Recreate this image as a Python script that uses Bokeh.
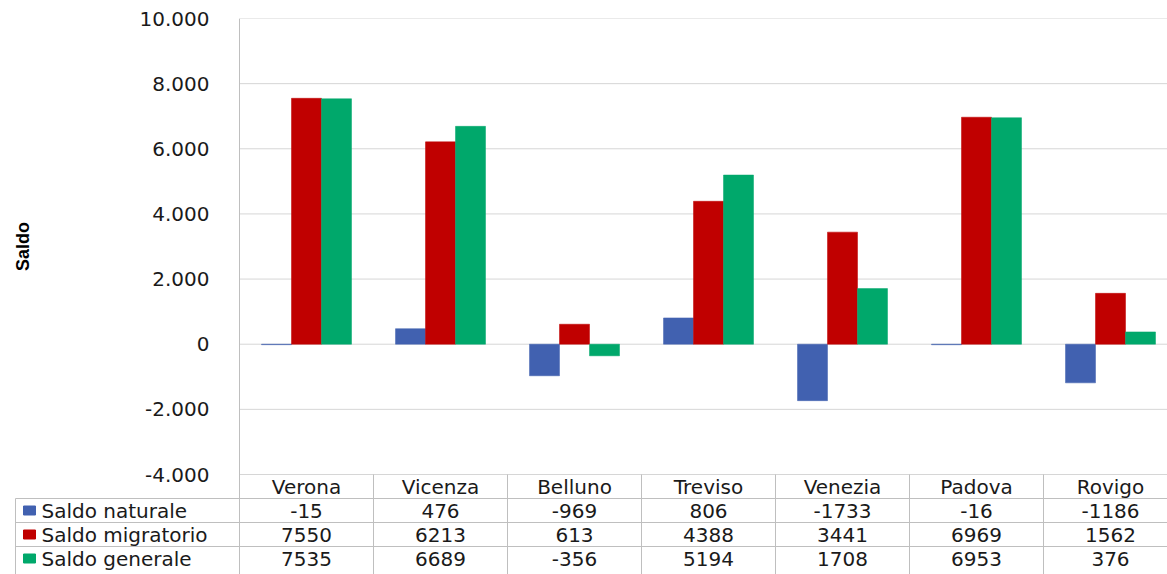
import math
from bokeh.plotting import figure
from bokeh.models import Range1d, FixedTicker
from bokeh.core.properties import value
from bokeh.embed import file_html
from bokeh.resources import INLINE

# ---------------- data ----------------
cats = ["Verona", "Vicenza", "Belluno", "Treviso", "Venezia", "Padova", "Rovigo"]
saldo_naturale = [-15, 476, -969, 806, -1733, -16, -1186]
saldo_migratorio = [7550, 6213, 613, 4388, 3441, 6969, 1562]
saldo_generale = [7535, 6689, -356, 5194, 1708, 6953, 376]
series_names = ["Saldo naturale", "Saldo migratorio", "Saldo generale"]
series_colors = ["#4161B0", "#C00000", "#00A86B"]
y_ticks = [-4000, -2000, 0, 2000, 4000, 6000, 8000, 10000]
y_tick_labels = ["-4.000", "-2.000", "0", "2.000", "4.000", "6.000", "8.000", "10.000"]
y_label = "Saldo"

series = [saldo_naturale, saldo_migratorio, saldo_generale]

# ---------------- layout constants (pixels) ----------------
FONT = "DejaVu Sans"
FS = "20px"
TXT = "#1a1a1a"
GRID = "#d6d6d6"
LINE = "#bfbfbf"
W, H = 1167, 574
BL, BT = 14, 18                # frame left/top
FRAME_W = W - BL
FRAME_H = H - BT
COL0_PX = 225                  # row-label column width (x 14..239)
CAT_PX = 134
CHART_PX = 456
ROW_PX = 24
BAR_PX = 30
n = len(cats)
nrows = len(series_names)

YMIN, YMAX = y_ticks[0], y_ticks[-1]
upp = (YMAX - YMIN) / CHART_PX                 # data units per pixel
ybot = YMAX - FRAME_H * upp
L = COL0_PX / CAT_PX
xend = (FRAME_W - COL0_PX) / CAT_PX

p = figure(width=W, height=H, x_range=Range1d(-L, xend), y_range=Range1d(ybot, YMAX),
           output_backend="svg", toolbar_location=None,
           min_border_left=BL, min_border_right=0, min_border_top=BT,
           min_border_bottom=0)
p.outline_line_color = None
p.xaxis.visible = False
p.grid.visible = False

# y axis: labels placed inside the row-label column, right-aligned 24px left of the chart
p.yaxis.ticker = FixedTicker(ticks=y_ticks)
p.yaxis.major_label_overrides = {t: l for t, l in zip(y_ticks, y_tick_labels)}
p.yaxis.major_label_text_font = FONT
p.yaxis.major_label_text_font_size = FS
p.yaxis.major_label_text_color = TXT
p.yaxis.major_label_standoff = -(COL0_PX - 24)
p.yaxis.major_tick_line_color = None
p.yaxis.minor_tick_line_color = None
p.yaxis.axis_line_color = None

# horizontal gridlines across the chart columns only
p.segment(x0=0, y0=y_ticks, x1=n, y1=y_ticks, line_color=GRID, line_width=1)

# bars
xc = [i + 0.5 for i in range(n)]
bw = BAR_PX / CAT_PX
for k, (vals, c) in enumerate(zip(series, series_colors)):
    off = (k - 1) * bw
    p.vbar(x=[x + off for x in xc], top=vals, bottom=0, width=bw,
           fill_color=c, line_color=c, line_alpha=0.5)

# y axis title
p.text(x=[-L + 8 / CAT_PX], y=[(YMIN + YMAX) / 2], text=[y_label], angle=math.pi / 2,
       text_align="center", text_baseline="middle", text_font=value("Liberation Sans"),
       text_font_style="bold", text_font_size="18px", text_color="#000000")

# ---------------- data table ----------------
row_h = ROW_PX * upp
row_edges = [YMIN - (k + 1) * row_h for k in range(nrows)]       # bottom of each row
xl = -L + 1 / CAT_PX
# left border of chart / table
p.segment(x0=0, y0=ybot, x1=0, y1=YMAX, line_color=LINE, line_width=1)
# horizontal lines below category row and between data rows
p.segment(x0=xl, y0=row_edges, x1=n, y1=row_edges, line_color=LINE, line_width=1)
# column separators
sep_x = list(range(1, n + 1))
p.segment(x0=sep_x, y0=ybot, x1=sep_x, y1=YMIN, line_color=LINE, line_width=1)
# left edge of the label column
p.segment(x0=xl, y0=ybot, x1=xl, y1=row_edges[0], line_color=LINE, line_width=1)

# category labels row
p.text(x=xc, y=[YMIN - row_h / 2] * n, text=cats, text_align="center",
       text_baseline="middle", text_font=value(FONT), text_font_size=FS,
       text_color=TXT)

row_y = [YMIN - (k + 1.5) * row_h for k in range(nrows)]
# legend keys and row labels
p.rect(x=[-L + 15 / CAT_PX] * nrows, y=row_y, width=12, height=9,
       width_units="screen", height_units="screen",
       fill_color=series_colors, line_color=series_colors)
p.text(x=[-L + 27 / CAT_PX] * nrows, y=row_y, text=series_names,
       text_align="left", text_baseline="middle", text_font=value(FONT),
       text_font_size=FS, text_color=TXT)
# values
for k, vals in enumerate(series):
    p.text(x=xc, y=[row_y[k]] * n, text=[str(v) for v in vals],
           text_align="center", text_baseline="middle", text_font=value(FONT),
           text_font_size=FS, text_color=TXT)

open("out.html", "w").write(file_html(p, INLINE))
